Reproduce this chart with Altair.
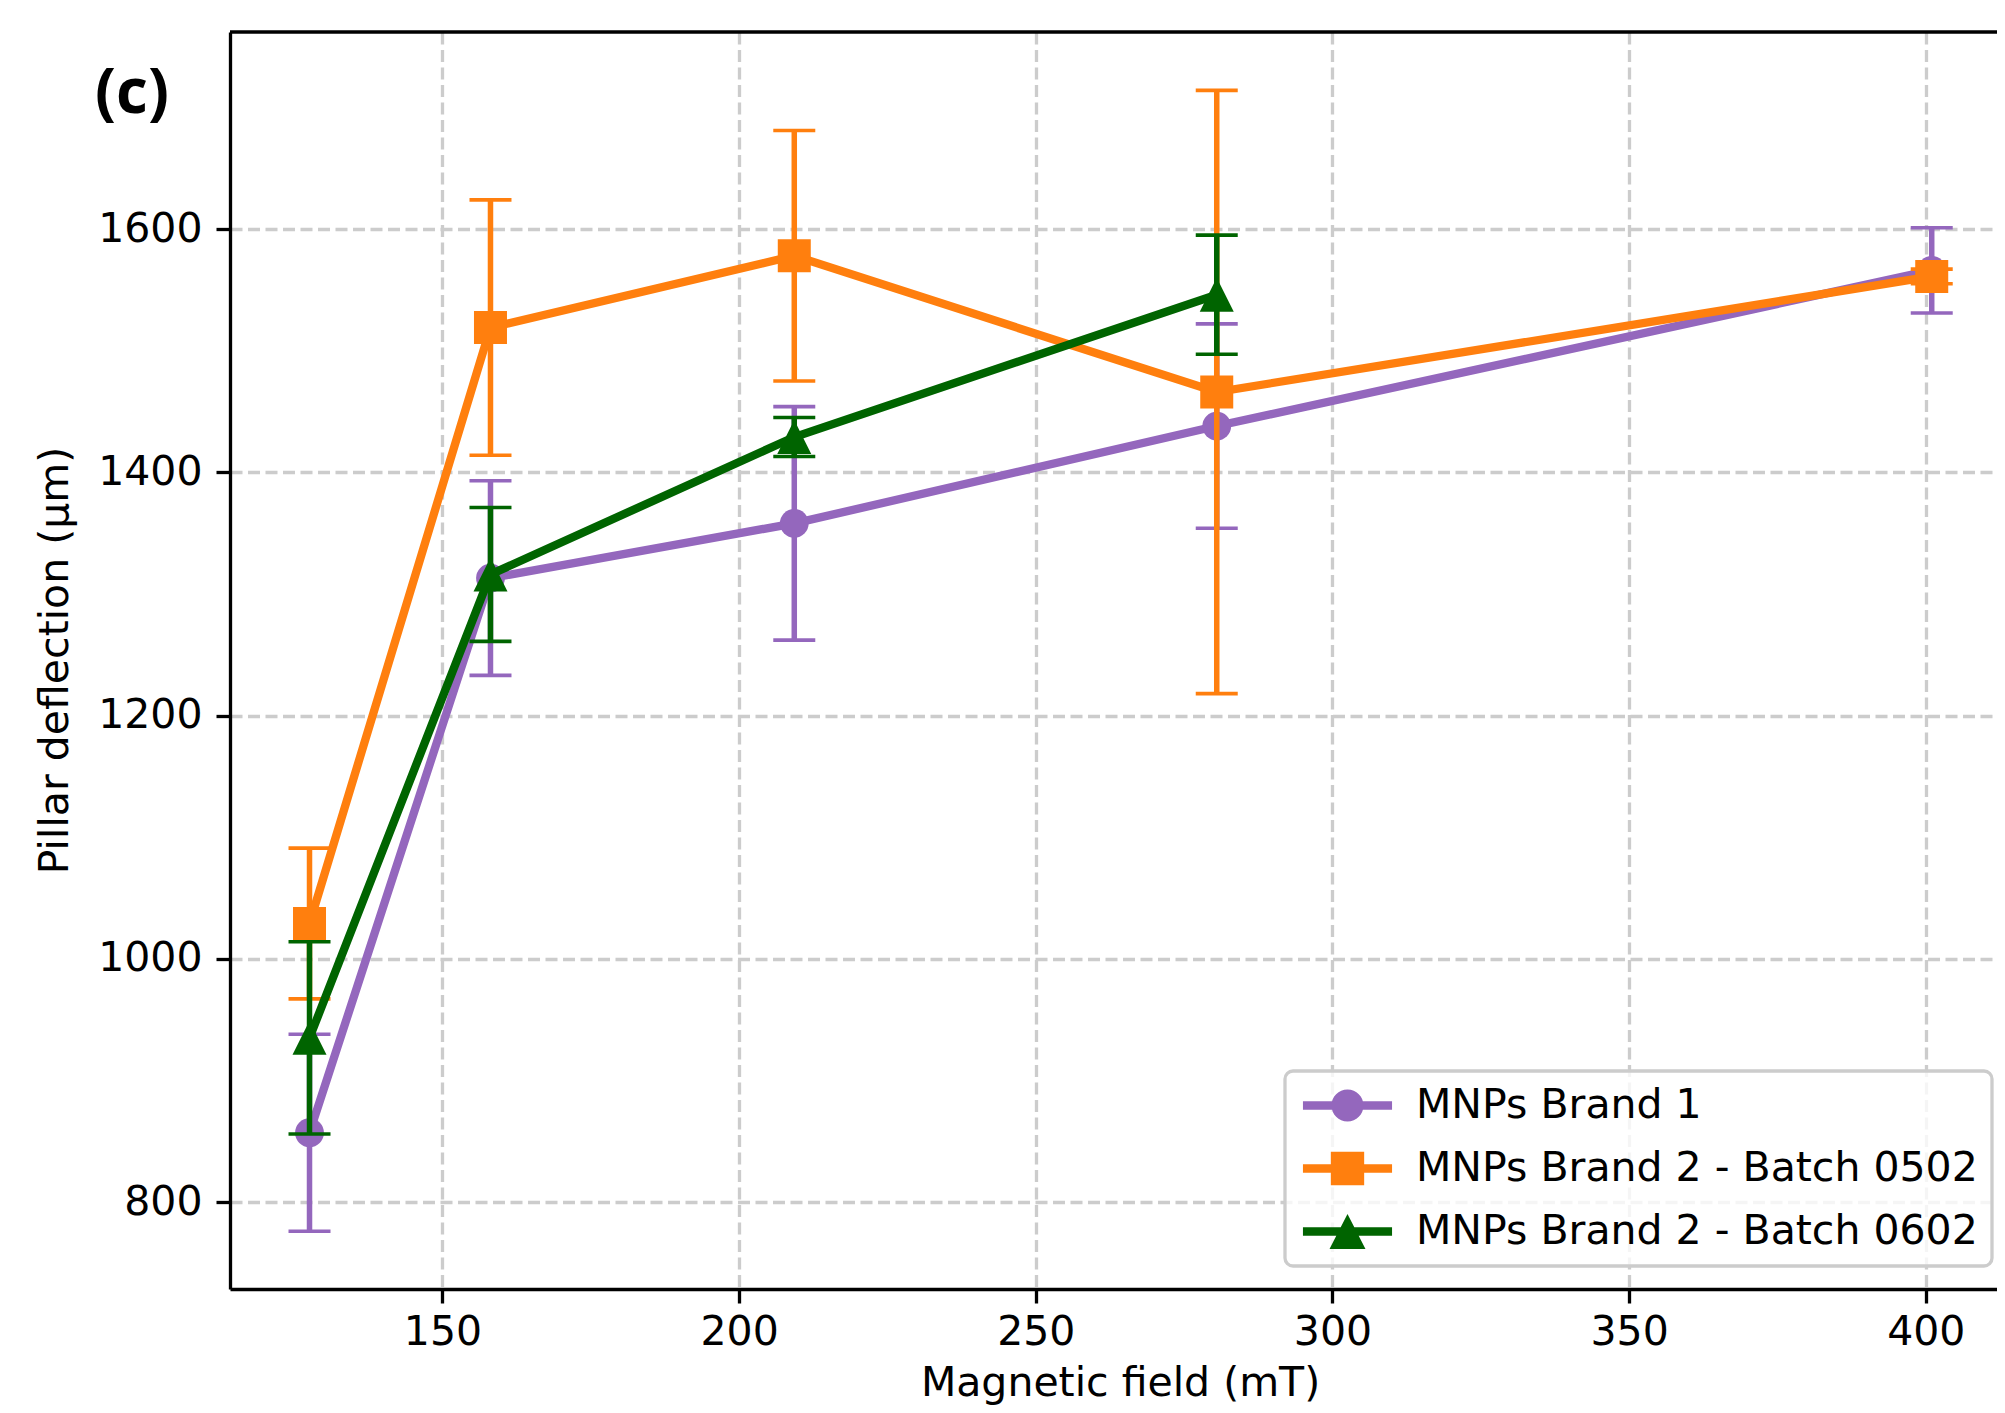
import altair as alt
import pandas as pd

# ---------------- data ----------------
series_names = ["MNPs Brand 1", "MNPs Brand 2 - Batch 0502", "MNPs Brand 2 - Batch 0602"]
series_colors = ["#9467bd", "#ff7f0e", "#006400"]

brand1_field = [127.6, 158.1, 209.3, 280.5, 401.0]
brand1_mean = [857, 1313, 1358, 1438, 1566]
brand1_err = [81, 80, 96, 84, 35]

b0502_field = [127.6, 158.1, 209.3, 280.5, 401.0]
b0502_mean = [1029, 1519, 1578, 1466, 1561]
b0502_err = [62, 105, 103, 248, 6]

b0602_field = [127.6, 158.1, 209.3, 280.5]
b0602_mean = [935, 1316, 1429, 1546]
b0602_err = [79, 55, 16, 49]

x_ticks = [150, 200, 250, 300, 350, 400]
y_ticks = [800, 1000, 1200, 1400, 1600]
x_domain = [114.2, 412.0]
y_domain = [728.5, 1762.0]

x_title = "Magnetic field (mT)"
y_title = "Pillar deflection (μm)"
panel_label = "(c)"

# ---------------- build table ----------------
rows = []
for name, xs, ms, es in [
    (series_names[0], brand1_field, brand1_mean, brand1_err),
    (series_names[1], b0502_field, b0502_mean, b0502_err),
    (series_names[2], b0602_field, b0602_mean, b0602_err),
]:
    for x, m, e in zip(xs, ms, es):
        rows.append({"series": name, "field": x, "mean": m, "lo": m - e, "hi": m + e})
df = pd.DataFrame(rows)

W, H = 1767, 1257

x_scale = alt.Scale(domain=x_domain, nice=False, zero=False)
y_scale = alt.Scale(domain=y_domain, nice=False, zero=False)

x_axis = alt.Axis(values=x_ticks, format="d", title=x_title, labelPadding=9,
                  titleX=890, titleY=106, titleBaseline="alphabetic", titleAlign="center")
y_axis = alt.Axis(values=y_ticks, format="d", title=y_title, labelPadding=14,
                  titleX=-175, titleY=628, titleAngle=270, titleBaseline="middle", titleAlign="center")

marker_shapes = ["circle", "square", "M0,-1L1,1L-1,1Z"]
marker_sizes = [830, 1089, 1156]

base = alt.Chart(df)
layers = []
for name, col, shp, sz in zip(series_names, series_colors, marker_shapes, marker_sizes):
    s = base.transform_filter(alt.datum.series == name)
    err = s.mark_rule(strokeWidth=5.5, color=col).encode(
        x=alt.X("field:Q", scale=x_scale, axis=x_axis),
        y=alt.Y("lo:Q", scale=y_scale, axis=y_axis),
        y2="hi:Q",
    )
    caps = s.transform_fold(["lo", "hi"], as_=["end", "val"]).mark_tick(
        orient="horizontal", size=42, thickness=3.6, color=col, opacity=1
    ).encode(
        x=alt.X("field:Q", scale=x_scale, axis=x_axis),
        y=alt.Y("val:Q", scale=y_scale, axis=y_axis),
    )
    line = s.mark_line(strokeWidth=8.3, color=col).encode(
        x=alt.X("field:Q", scale=x_scale, axis=x_axis),
        y=alt.Y("mean:Q", scale=y_scale, axis=y_axis),
    )
    pts = s.mark_point(filled=True, opacity=1, color=col, shape=shp, size=sz, strokeWidth=0).encode(
        x=alt.X("field:Q", scale=x_scale, axis=x_axis),
        y=alt.Y("mean:Q", scale=y_scale, axis=y_axis),
    )
    layers += [err, caps, line, pts]

# legend-only layer (no rows drawn): line + marker glyphs
legend_paths = [
    "M-2.7,-0.264H2.7V0.264H-2.7Z M0.97,0A0.97,0.97 0 1,1 -0.97,0A0.97,0.97 0 1,1 0.97,0Z",
    "M-2.7,-0.264H2.7V0.264H-2.7Z M-1.01,-1.01H1.01V1.01H-1.01Z",
    "M-2.7,-0.264H2.7V0.264H-2.7Z M0,-1.06L1.09,1.06L-1.09,1.06Z",
]
leg = alt.Legend(
    title=None, orient="none", legendX=1055, legendY=1039,
    symbolSize=1089, symbolOffset=28, labelOffset=48, symbolStrokeWidth=0,
    labelFont="DejaVu Sans", labelFontSize=41, labelColor="black", labelLimit=2000,
    rowPadding=21, padding=14, fillColor="rgba(255,255,255,0.8)",
    strokeColor="#cccccc", cornerRadius=8, symbolOpacity=1,
)
legend_layer = base.transform_filter("false").mark_point(filled=True, opacity=1).encode(
    x=alt.X("field:Q", scale=x_scale, axis=x_axis),
    y=alt.Y("mean:Q", scale=y_scale, axis=y_axis),
    color=alt.Color("series:N", scale=alt.Scale(domain=series_names, range=series_colors), legend=leg),
    shape=alt.Shape("series:N", scale=alt.Scale(domain=series_names, range=legend_paths), legend=leg),
)
layers.append(legend_layer)

# top spine
spine = alt.Chart(pd.DataFrame({"k": [0]})).mark_rule(color="black", strokeWidth=3.3).encode(
    x=alt.value(0), x2=alt.value(W), y=alt.value(0)
)
label = alt.Chart(pd.DataFrame({"t": [panel_label]})).mark_text(
    font="Open Sans", fontWeight="bold", fontSize=62, align="left", baseline="alphabetic", color="black"
).encode(x=alt.value(-135), y=alt.value(81), text="t:N")
layers += [spine, label]

chart = alt.layer(*layers).properties(
    width=W, height=H,
    autosize=alt.AutoSizeParams(type="none"),
    padding={"left": 222, "top": 24, "right": 0, "bottom": 116},
).configure_view(stroke=None).configure_axis(
    labelFont="DejaVu Sans", labelFontSize=41, labelColor="black",
    titleFont="DejaVu Sans", titleFontSize=41, titleFontWeight="normal", titleColor="black",
    tickColor="black", tickSize=14, tickWidth=3.3,
    domainColor="black", domainWidth=3.3,
    gridColor="#cccccc", gridDash=[12, 5.5], gridWidth=3.3,
).configure_legend(strokeWidth=3.3)

chart.save("out.html", embed_options={"renderer": "svg", "actions": False})
